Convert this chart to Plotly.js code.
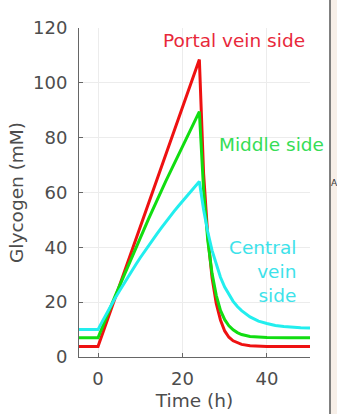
<!DOCTYPE html>
<html>
<head>
<meta charset="utf-8">
<script src="https://cdn.plot.ly/plotly-3.0.1.min.js"></script>
<style>html,body{margin:0;padding:0;background:#fff;}#chart{width:337px;height:414px;}</style>
</head>
<body>
<div id="chart"></div>
<script>
// Portal vein side
var timePortal = [-4.5, 0, 24, 25, 26, 27, 28, 29, 30, 31, 32, 33, 34, 36, 38, 40, 45, 50.2];
var glyPortal  = [3.8, 3.8, 108.5, 67, 44, 29, 19.5, 13.5, 9.5, 7.2, 5.9, 5.1, 4.6, 4.1, 3.9, 3.85, 3.8, 3.8];
// Middle side
var timeMiddle = [-4.5, 0, 4, 8, 12, 16, 20, 24, 25, 26, 27, 28, 29, 30, 31, 32, 33, 34, 36, 38, 40, 45, 50.2];
var glyMiddle  = [7, 7, 22, 36.5, 50.5, 64, 77, 89.5, 61, 42.5, 30.5, 22.5, 17, 13.6, 11.4, 9.9, 8.9, 8.2, 7.5, 7.2, 7.1, 7.0, 7.0];
// Central vein side
var timeCentral = [-4.5, 0, 1, 2, 3, 4, 5, 6, 7, 8, 9, 10, 11, 12, 13, 14, 15, 16, 17, 18, 19, 20, 21, 22, 23, 24, 25, 26, 27, 28, 29, 30, 31, 32, 33, 34, 36, 38, 40, 42, 44, 46, 48, 50.2];
var glyCentral  = [10, 10, 12.9, 15.8, 18.6, 21.3, 23.9, 26.5, 29.0, 31.4, 33.8, 36.2, 38.5, 40.8, 42.9, 45.0, 47.1, 49.2, 51.2, 53.1, 55.0, 56.8, 58.7, 60.5, 62.3, 64, 53.8, 45.6, 38.9, 33.5, 29.1, 25.5, 22.7, 20.3, 18.4, 16.9, 14.6, 13.1, 12.2, 11.5, 11.1, 10.8, 10.7, 10.6];

var seriesNames = ['Portal vein side', 'Middle side', 'Central<br>vein<br>side'];
var xTicks = [0, 20, 40];
var yTicks = [0, 20, 40, 60, 80, 100, 120];

var lineColors = ['#ee1111', '#11dd11', '#22eeee'];
var textColors = ['#e8283a', '#36dd55', '#3de2ea'];

var traces = [
  {x: timePortal, y: glyPortal, mode: 'lines', line: {color: lineColors[0], width: 3}, name: 'Portal'},
  {x: timeMiddle, y: glyMiddle, mode: 'lines', line: {color: lineColors[1], width: 3}, name: 'Middle'},
  {x: timeCentral, y: glyCentral, mode: 'lines', line: {color: lineColors[2], width: 3}, name: 'Central'}
];

var tickFont = {family: 'DejaVu Sans', size: 18, color: '#4d4d4d'};
var titleFont = {family: 'DejaVu Sans', size: 18.5, color: '#4d4d4d'};

var layout = {
  width: 337, height: 414,
  margin: {l: 79, r: 27, t: 28, b: 57, pad: 0},
  paper_bgcolor: '#ffffff', plot_bgcolor: '#ffffff',
  showlegend: false,
  font: {family: 'DejaVu Sans', color: '#4d4d4d'},
  xaxis: {
    range: [-4.5, 50.2], tickvals: xTicks, ticktext: xTicks.map(String),
    ticks: 'inside', ticklen: 4, tickcolor: '#666', tickwidth: 1,
    showline: true, linecolor: '#666', linewidth: 1,
    showgrid: true, gridcolor: '#ececec', gridwidth: 1, zeroline: false,
    tickfont: tickFont, ticklabelstandoff: 5,
    title: {text: 'Time (h)', font: titleFont, standoff: 6}
  },
  yaxis: {
    range: [0, 120], tickvals: yTicks, ticktext: yTicks.map(String),
    ticks: 'inside', ticklen: 4, tickcolor: '#666', tickwidth: 1,
    showline: true, linecolor: '#666', linewidth: 1,
    showgrid: true, gridcolor: '#ececec', gridwidth: 1, zeroline: false,
    tickfont: tickFont, ticklabelstandoff: 7,
    title: {text: 'Glycogen (mM)', font: titleFont, standoff: 4}
  },
  annotations: [
    {x: 32.2, y: 115.6, xref: 'x', yref: 'y', text: seriesNames[0], showarrow: false,
     xanchor: 'center', yanchor: 'middle', font: {family: 'DejaVu Sans', size: 18.5, color: textColors[0]}},
    {x: 41.2, y: 77.5, xref: 'x', yref: 'y', text: seriesNames[1], showarrow: false,
     xanchor: 'center', yanchor: 'middle', font: {family: 'DejaVu Sans', size: 18.5, color: textColors[1]}},
    {x: 47.4, y: 31.2, xref: 'x', yref: 'y', text: seriesNames[2], showarrow: false, align: 'right',
     xanchor: 'right', yanchor: 'middle', font: {family: 'DejaVu Sans', size: 18.5, color: textColors[2]}},
    {x: 1.1039, y: 0.53, xref: 'paper', yref: 'paper', text: 'A', showarrow: false, borderpad: 0,
     xanchor: 'center', yanchor: 'middle', font: {family: 'DejaVu Sans', size: 9, color: '#333'}}
  ],
  shapes: [
    {type: 'rect', xref: 'paper', yref: 'paper', x0: 1.089, x1: 1.2, y0: -0.3, y1: 1.2,
     fillcolor: '#f7efe8', line: {width: 0}, layer: 'below'},
    {type: 'line', xref: 'paper', yref: 'paper', x0: 1.0866, x1: 1.0866, y0: -0.3, y1: 1.2,
     line: {color: '#555', width: 1.5}}
  ]
};

Plotly.newPlot('chart', traces, layout, {staticPlot: true, displayModeBar: false});
</script>
</body>
</html>
